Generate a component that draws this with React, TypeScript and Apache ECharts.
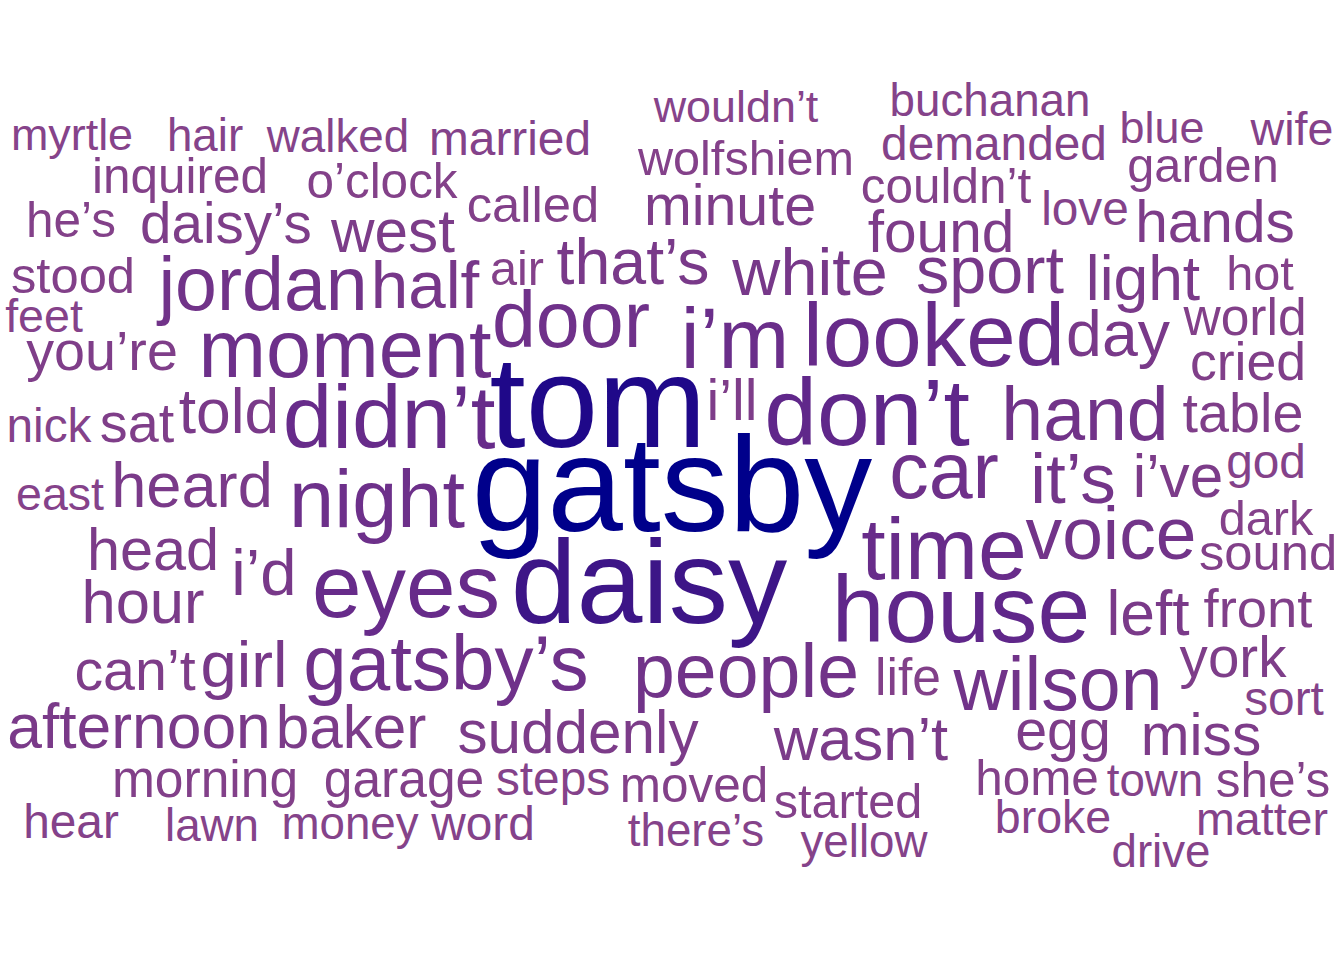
import React, { useEffect, useRef } from 'react';
import * as echarts from 'echarts';

// word cloud: each word is a point in a 1344 x 960 layout space, sized and coloured by count
const words = [
  'myrtle', 'hair', 'walked', 'married', 'wouldn’t', 'buchanan', 'blue', 'wife',
  'inquired', 'o’clock', 'wolfshiem', 'demanded', 'garden', 'he’s', 'daisy’s', 'west',
  'called', 'minute', 'couldn’t', 'love', 'found', 'hands', 'stood', 'jordan',
  'half', 'air', 'that’s', 'white', 'sport', 'light', 'hot', 'feet',
  'moment', 'door', 'i’m', 'looked', 'day', 'world', 'you’re', 'cried',
  'nick', 'sat', 'told', 'didn’t', 'tom', 'i’ll', 'don’t', 'hand',
  'table', 'east', 'heard', 'night', 'gatsby', 'car', 'it’s', 'i’ve',
  'god', 'head', 'i’d', 'eyes', 'daisy', 'time', 'voice', 'dark',
  'sound', 'hour', 'house', 'left', 'front', 'can’t', 'girl', 'gatsby’s',
  'people', 'life', 'wilson', 'york', 'sort', 'afternoon', 'baker', 'suddenly',
  'wasn’t', 'egg', 'miss', 'morning', 'garage', 'steps', 'moved', 'started',
  'home', 'town', 'she’s', 'hear', 'lawn', 'money', 'word', 'there’s',
  'broke', 'matter', 'yellow', 'drive',
];

const layoutX = [
  72, 205, 338, 510, 736, 990, 1162, 1292,
  180, 382, 746, 994, 1203, 71, 226, 393,
  533, 730, 946, 1085, 941, 1215, 73, 263,
  425, 517, 633, 810, 990, 1143, 1260, 44,
  345, 571, 735, 934, 1118, 1245, 102, 1248,
  49, 137, 229, 389, 598, 732, 867, 1085,
  1243, 60, 192, 377, 672, 944, 1073, 1178,
  1266, 153, 264, 406, 649, 944, 1111, 1266,
  1268, 143, 961, 1148, 1258, 135, 244, 446,
  746, 908, 1058, 1233, 1284, 139, 351, 578,
  861, 1063, 1201, 205, 404, 553, 694, 848,
  1037, 1155, 1273, 71, 212, 350, 483, 696,
  1053, 1262, 864, 1161,
];

const layoutY = [
  150, 152, 153, 155, 122, 117, 143, 145,
  193, 198, 175, 160, 182, 237, 243, 252,
  222, 225, 203, 225, 252, 242, 293, 310,
  308, 285, 285, 295, 293, 300, 290, 332,
  377, 347, 368, 366, 357, 335, 370, 380,
  442, 442, 433, 448, 448, 420, 445, 440,
  432, 510, 507, 527, 532, 498, 503, 497,
  478, 570, 595, 617, 623, 580, 560, 535,
  570, 623, 642, 635, 628, 690, 687, 690,
  697, 695, 710, 677, 715, 748, 748, 753,
  760, 750, 755, 797, 797, 795, 802, 818,
  795, 797, 797, 838, 842, 840, 840, 847,
  833, 835, 858, 868,
];

const counts = [
  31, 33, 33, 38, 31, 33, 31, 35,
  42, 42, 40, 38, 40, 42, 59, 68,
  45, 61, 42, 38, 64, 64, 45, 104,
  85, 40, 78, 83, 83, 73, 40, 35,
  118, 113, 127, 137, 78, 47, 57, 52,
  38, 57, 73, 137, 236, 61, 151, 104,
  57, 35, 75, 118, 250, 113, 94, 68,
  38, 66, 80, 137, 208, 134, 99, 40,
  45, 71, 151, 73, 54, 61, 80, 111,
  104, 47, 104, 59, 38, 73, 68, 68,
  71, 61, 64, 47, 47, 38, 42, 40,
  42, 33, 42, 38, 33, 33, 38, 33,
  35, 35, 33, 33,
];

const WIDTH = 1344;
const HEIGHT = 960;
const FONT = '"Liberation Sans", Arial, Helvetica, sans-serif';

const App: React.FC = () => {
  const chartRef = useRef<HTMLDivElement>(null);

  useEffect(() => {
    if (!chartRef.current) return;
    const chart = echarts.init(chartRef.current, undefined, { renderer: 'svg' });

    const maxCount = Math.max(...counts);
    const minCount = Math.min(...counts);

    const data = words.map((w, i) => {
      const fs = 32 + (104 * counts[i]) / maxCount;
      return {
        name: w,
        value: [layoutX[i], layoutY[i], counts[i]],
        label: { fontSize: fs, lineHeight: fs * 0.8, offset: [0, -0.35 * fs] },
      };
    });

    chart.setOption({
      animation: false,
      backgroundColor: '#ffffff',
      grid: { left: 0, right: 0, top: 0, bottom: 0 },
      xAxis: { type: 'value', min: 0, max: WIDTH, show: false },
      yAxis: { type: 'value', min: 0, max: HEIGHT, inverse: true, show: false },
      visualMap: {
        show: false,
        type: 'continuous',
        dimension: 2,
        min: minCount,
        max: maxCount,
        inRange: {
          color: [
            '#86438a', '#803f89', '#7a3a89', '#733489', '#6d308a', '#662a8a',
            '#592389', '#4c1c88', '#3e1687', '#300d88', '#00008b',
          ],
        },
      },
      series: [
        {
          type: 'scatter',
          symbolSize: 0,
          silent: true,
          itemStyle: { opacity: 1 },
          data,
          label: {
            show: true,
            position: [0, 0],
            align: 'center',
            verticalAlign: 'middle',
            formatter: '{b}',
            color: 'inherit',
            fontFamily: FONT,
          },
        },
      ],
    });

    return () => {
      chart.dispose();
    };
  }, []);

  return (
    <div
      ref={chartRef}
      style={{ position: 'absolute', left: 0, top: 0, width: WIDTH, height: HEIGHT }}
    />
  );
};

export default App;
